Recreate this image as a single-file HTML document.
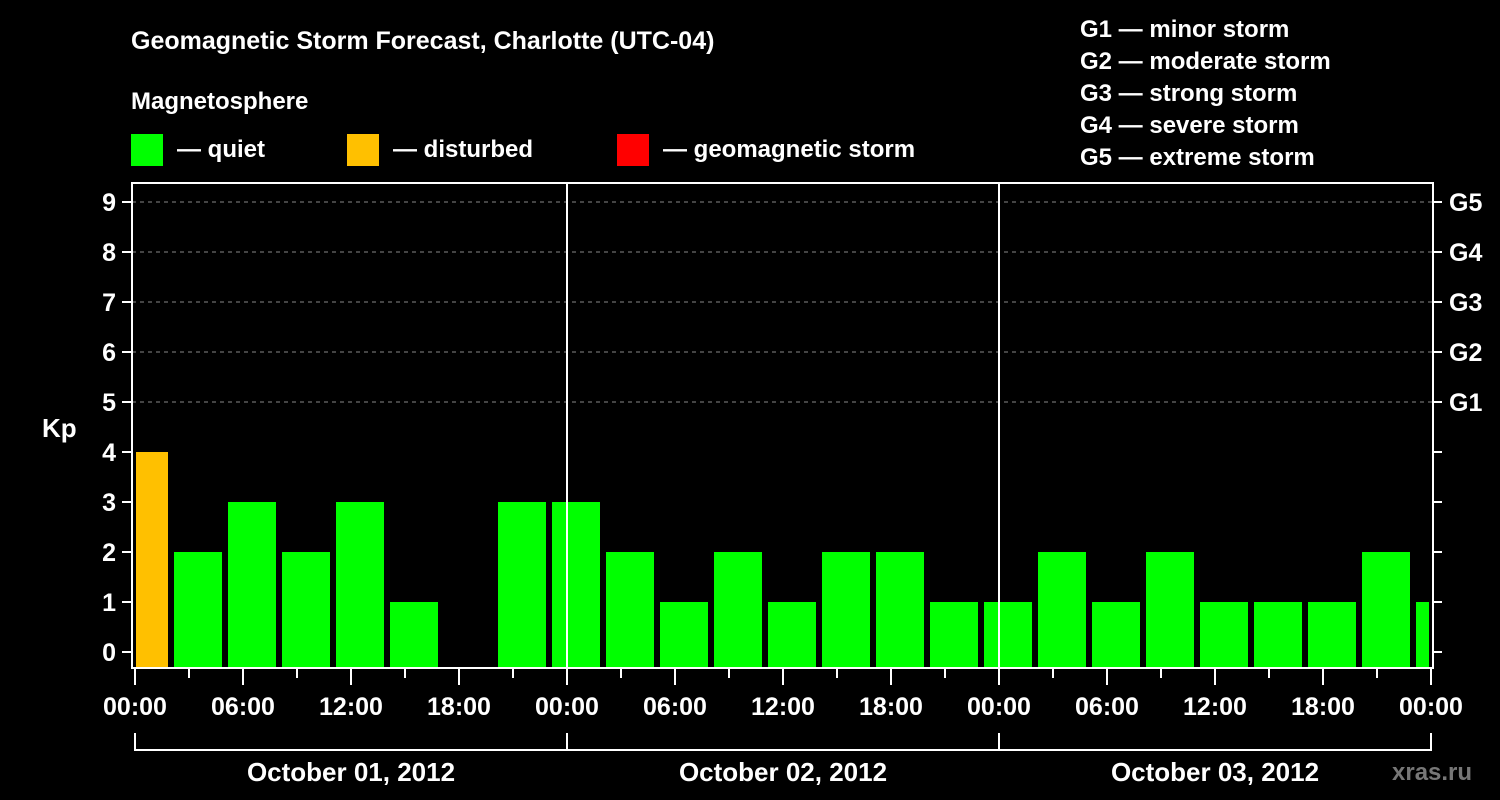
<!DOCTYPE html>
<html><head><meta charset="utf-8"><style>
html,body{margin:0;padding:0;background:#000;}
svg{display:block;font-family:"Liberation Sans",Arial,sans-serif;font-weight:bold;}
</style></head><body>
<svg id="chart" width="1500" height="800" viewBox="0 0 1500 800">
<rect width="1500" height="800" fill="#000"/>
<text x="131" y="49" fill="#fff" font-size="25">Geomagnetic Storm Forecast, Charlotte (UTC-04)</text>
<text x="131" y="109" fill="#fff" font-size="24">Magnetosphere</text>
<g><rect x="131" y="134" width="32" height="32" fill="#00ff00"/><text x="177" y="157" fill="#fff" font-size="24">— quiet</text></g>
<g><rect x="347" y="134" width="32" height="32" fill="#ffc000"/><text x="393" y="157" fill="#fff" font-size="24">— disturbed</text></g>
<g><rect x="617" y="134" width="32" height="32" fill="#ff0000"/><text x="663" y="157" fill="#fff" font-size="24">— geomagnetic storm</text></g>
<g fill="#fff" font-size="24">
<text x="1080" y="37">G1 — minor storm</text>
<text x="1080" y="69">G2 — moderate storm</text>
<text x="1080" y="101">G3 — strong storm</text>
<text x="1080" y="133">G4 — severe storm</text>
<text x="1080" y="165">G5 — extreme storm</text>
</g>
<text x="42" y="437" fill="#fff" font-size="26">Kp</text>
<text x="1392" y="780" fill="#777" font-size="24">xras.ru</text>
<g id="plot"></g>
</svg>
<script>
const kpValues = [4,2,3,2,3,1,0,3,3,2,1,2,1,2,2,1,1,2,1,2,1,1,1,2,1];
const dayLabels = ["October 01, 2012","October 02, 2012","October 03, 2012"];
const hourLabels = ["00:00","06:00","12:00","18:00"];
const yTicks = [0,1,2,3,4,5,6,7,8,9];
const gLabels = ["G1","G2","G3","G4","G5"];

const NS="http://www.w3.org/2000/svg";
const plot=document.getElementById('plot');
const X0=135, PX_PER_H=18, L=132, R=1433, T=183, B=668;
const x=h=>X0+h*PX_PER_H;
const y=v=>652-v*50;
function el(tag,attrs,parent){const e=document.createElementNS(NS,tag);for(const k in attrs)e.setAttribute(k,attrs[k]);(parent||plot).appendChild(e);return e;}

// grid lines
for(let v=5;v<=9;v++){
  const g=el('line',{x1:L,x2:R,y1:y(v),y2:y(v),stroke:'#888','stroke-width':1,'stroke-dasharray':'4,4'});
  
  
}
// bars
kpValues.forEach((v,i)=>{
  if(v<=0)return;
  let x1=x(i*3)-15, x2=x1+48;
  x1=Math.max(x1,136); x2=Math.min(x2,1429);
  const col=v>=5?'#ff0000':(v>=4?'#ffc000':'#00ff00');
  const b=el('rect',{x:x1,y:y(v),width:x2-x1,height:667-y(v),fill:col});
  
  
});
// day separators
for(let d=1;d<dayLabels.length;d++){
  const s=el('line',{x1:x(d*24),x2:x(d*24),y1:T,y2:B,stroke:'#fff','stroke-width':2});
  
  
}
// frame
const f=el('rect',{x:L,y:T,width:R-L,height:B-T,fill:'none',stroke:'#fff','stroke-width':2});


// y ticks
yTicks.forEach(v=>{
  el('line',{x1:122,x2:L,y1:y(v),y2:y(v),stroke:'#fff','stroke-width':2});
  el('line',{x1:R,x2:1442,y1:y(v),y2:y(v),stroke:'#fff','stroke-width':2});
  const t=el('text',{x:116,y:y(v)+9,fill:'#fff','font-size':25,'text-anchor':'end'});
  t.textContent=v;
  
  
});
gLabels.forEach((g,i)=>{
  const t=el('text',{x:1449,y:y(i+5)+9,fill:'#fff','font-size':25});
  t.textContent=g;
  
  
});
// x ticks
const totalH=dayLabels.length*24;
for(let h=0;h<=totalH;h+=3){
  const major=h%6===0;
  el('line',{x1:x(h),x2:x(h),y1:B,y2:major?685:678,stroke:'#fff','stroke-width':2});
  if(major){
    const t=el('text',{x:x(h),y:715,fill:'#fff','font-size':25,'text-anchor':'middle'});
    t.textContent=hourLabels[(h%24)/6];
    
    
  }
}
// day brackets
dayLabels.forEach((d,i)=>{
  el('line',{x1:x(i*24),x2:x(i*24),y1:733,y2:751,stroke:'#fff','stroke-width':2});
  el('line',{x1:x(i*24),x2:x((i+1)*24),y1:750,y2:750,stroke:'#fff','stroke-width':2});
  const t=el('text',{x:x(i*24+12),y:781,fill:'#fff','font-size':26,'text-anchor':'middle'});
  t.textContent=d;
  
  
});
el('line',{x1:x(totalH),x2:x(totalH),y1:733,y2:751,stroke:'#fff','stroke-width':2});
</script>
</body></html>
